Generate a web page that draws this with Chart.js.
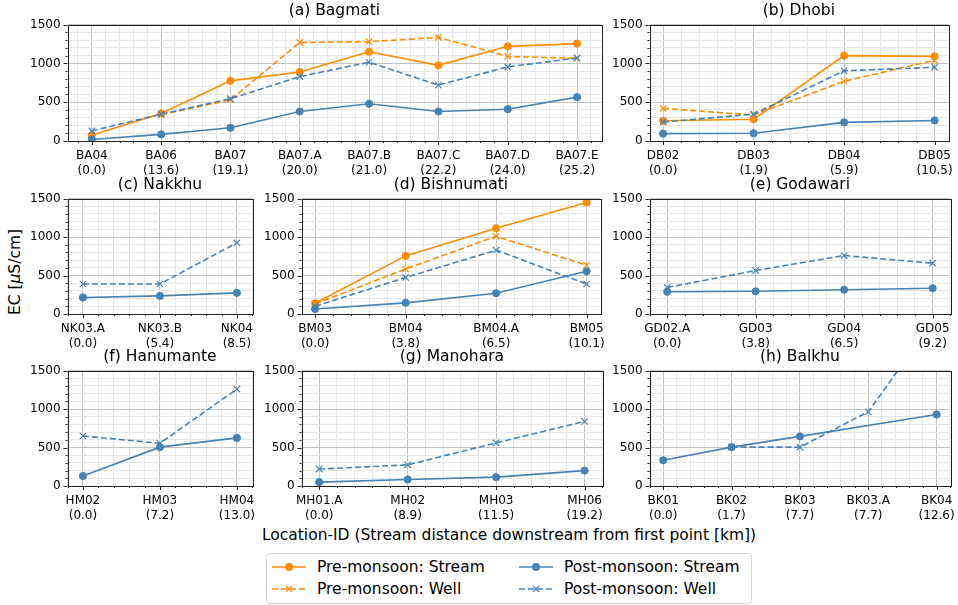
<!DOCTYPE html>
<html>
<head>
<meta charset="utf-8">
<script src="https://cdn.jsdelivr.net/npm/chart.js@4.4.0/dist/chart.umd.min.js"></script>
<style>
  body { margin: 0; background: #fff; }
  #fig { position: relative; width: 958px; height: 605px; overflow: hidden; font-family: "DejaVu Sans", sans-serif; color: #000; }
  #fig canvas { position: absolute; }
  .txt { position: absolute; white-space: nowrap; font-size: 15.5px; line-height: 20px; }
  .handle { position: absolute; }
</style>
</head>
<body>
<div id="fig">
  <div class="txt" id="xlabel" style="left:509px; top:525px; transform:translateX(-50%);">Location-ID (Stream distance downstream from first point [km])</div>
  <div class="txt" id="ylabel" style="left:15px; top:272px; transform:translate(-50%,-50%) rotate(-90deg);">EC [<i>μ</i>S/cm]</div>
  <div id="legend" style="position:absolute; left:266px; top:553px; width:486px; height:51px; box-sizing:border-box; border:1px solid #d3d3d3; border-radius:4px;"></div>
</div>
<script>
const FONT = '"DejaVu Sans", sans-serif';
const ORANGE = '#ff8c00';
const BLUE = '#4682b4';

// (a) Bagmati
const bagIds = ['BA04', 'BA06', 'BA07', 'BA07.A', 'BA07.B', 'BA07.C', 'BA07.D', 'BA07.E'];
const bagDist = ['0.0', '13.6', '19.1', '20.0', '21.0', '22.2', '24.0', '25.2'];
const bagPreStream = [75, 355, 775, 890, 1150, 975, 1220, 1255];
const bagPreWell = [null, 340, 530, 1270, 1280, 1335, 1090, 1065];
const bagPostStream = [20, 85, 170, 380, 480, 380, 410, 565];
const bagPostWell = [130, 345, 545, 830, 1015, 720, 955, 1070];

// (b) Dhobi
const dhoIds = ['DB02', 'DB03', 'DB04', 'DB05'];
const dhoDist = ['0.0', '1.9', '5.9', '10.5'];
const dhoPreStream = [260, 280, 1100, 1090];
const dhoPreWell = [420, 335, 770, 1040];
const dhoPostStream = [95, 100, 240, 265];
const dhoPostWell = [245, 345, 905, 950];

// (c) Nakkhu
const nakIds = ['NK03.A', 'NK03.B', 'NK04'];
const nakDist = ['0.0', '5.4', '8.5'];
const nakPostStream = [215, 235, 275];
const nakPostWell = [390, 390, 925];

// (d) Bishnumati
const bisIds = ['BM03', 'BM04', 'BM04.A', 'BM05'];
const bisDist = ['0.0', '3.8', '6.5', '10.1'];
const bisPreStream = [140, 755, 1115, 1450];
const bisPreWell = [130, 585, 1010, 635];
const bisPostStream = [65, 145, 270, 555];
const bisPostWell = [100, 475, 830, 390];

// (e) Godawari
const godIds = ['GD02.A', 'GD03', 'GD04', 'GD05'];
const godDist = ['0.0', '3.8', '6.5', '9.2'];
const godPostStream = [290, 295, 315, 335];
const godPostWell = [345, 565, 760, 660];

// (f) Hanumante
const hanIds = ['HM02', 'HM03', 'HM04'];
const hanDist = ['0.0', '7.2', '13.0'];
const hanPostStream = [130, 505, 625];
const hanPostWell = [650, 555, 1260];

// (g) Manohara
const manIds = ['MH01.A', 'MH02', 'MH03', 'MH06'];
const manDist = ['0.0', '8.9', '11.5', '19.2'];
const manPostStream = [50, 85, 115, 200];
const manPostWell = [220, 275, 560, 840];

// (h) Balkhu
const balIds = ['BK01', 'BK02', 'BK03', 'BK03.A', 'BK04'];
const balDist = ['0.0', '1.7', '7.7', '7.7', '12.6'];
const balPostStream = [335, 505, 645, null, 930];
const balPostWell = [null, 505, 505, 965, 2200];

const yTicks = [0, 500, 1000, 1500];

// panel layout: plot-area box [left, top, width, height] and x padding in category units
const panels = [
  { title: '(a) Bagmati', ids: bagIds, dist: bagDist, series: [bagPreStream, bagPreWell, bagPostStream, bagPostWell], pad: 0.35, box: [68, 25, 534, 116] },
  { title: '(b) Dhobi', ids: dhoIds, dist: dhoDist, series: [dhoPreStream, dhoPreWell, dhoPostStream, dhoPostWell], pad: 0.15, box: [650, 25, 301, 116] },
  { title: '(c) Nakkhu', ids: nakIds, dist: nakDist, series: [null, null, nakPostStream, nakPostWell], pad: 0.2, box: [68, 199, 185, 115] },
  { title: '(d) Bishnumati', ids: bisIds, dist: bisDist, series: [bisPreStream, bisPreWell, bisPostStream, bisPostWell], pad: 0.15, box: [302, 199, 301, 115] },
  { title: '(e) Godawari', ids: godIds, dist: godDist, series: [null, null, godPostStream, godPostWell], pad: 0.2, box: [650, 199, 301, 115] },
  { title: '(f) Hanumante', ids: hanIds, dist: hanDist, series: [null, null, hanPostStream, hanPostWell], pad: 0.2, box: [68, 371, 185, 115] },
  { title: '(g) Manohara', ids: manIds, dist: manDist, series: [null, null, manPostStream, manPostWell], pad: 0.2, box: [302, 371, 301, 115] },
  { title: '(h) Balkhu', ids: balIds, dist: balDist, series: [null, null, balPostStream, balPostWell], pad: 0.2, box: [650, 371, 301, 115] }
];

// colour, dashed, draw order for Pre Stream, Pre Well, Post Stream, Post Well
const seriesStyle = [
  { color: ORANGE, dashed: false, order: 4 },
  { color: ORANGE, dashed: true, order: 3 },
  { color: BLUE, dashed: false, order: 2 },
  { color: BLUE, dashed: true, order: 1 }
];

const MAJOR_GRID = '#c4c4c4';
const MINOR_GRID = '#e6e6e6';

// frame on all four sides plus major/minor tick marks
const framePlugin = {
  id: 'frame',
  afterDraw(chart) {
    const { ctx, chartArea: a, scales } = chart;
    ctx.save();
    ctx.strokeStyle = '#222';
    ctx.lineWidth = 1;
    ctx.beginPath();
    scales.x.ticks.forEach(t => {
      const px = Math.round(scales.x.getPixelForValue(t.value)) + 0.5;
      const len = Number.isInteger(t.value) ? 4 : 2;
      ctx.moveTo(px, a.bottom);
      ctx.lineTo(px, a.bottom + len);
    });
    scales.y.ticks.forEach(t => {
      const py = Math.round(scales.y.getPixelForValue(t.value)) + 0.5;
      const len = t.value % 500 === 0 ? 4 : 2;
      ctx.moveTo(a.left, py);
      ctx.lineTo(a.left - len, py);
    });
    ctx.stroke();
    ctx.strokeRect(Math.round(a.left) + 0.5, Math.round(a.top) + 0.5, Math.round(a.right - a.left), Math.round(a.bottom - a.top));
    ctx.restore();
  }
};

function makeDataset(vals, style) {
  return {
    data: vals.map((v, i) => ({ x: i, y: v })),
    borderColor: style.color,
    backgroundColor: style.color,
    borderWidth: 1.6,
    borderDash: style.dashed ? [6, 3] : [],
    pointStyle: style.dashed ? 'crossRot' : 'circle',
    pointRadius: style.dashed ? 4.5 : 3.6,
    pointBorderWidth: style.dashed ? 1.2 : 1,
    pointBorderColor: style.color,
    pointBackgroundColor: style.color,
    spanGaps: true,
    clip: 0,
    order: style.order
  };
}

function makeChart(p) {
  const fig = document.getElementById('fig');
  const canvas = document.createElement('canvas');
  canvas.width = p.box[2] + 120;
  canvas.height = p.box[3] + 90;
  fig.appendChild(canvas);

  const n = p.ids.length;
  const datasets = [];
  p.series.forEach((vals, k) => {
    if (vals) datasets.push(makeDataset(vals, seriesStyle[k]));
  });

  const chart = new Chart(canvas, {
    type: 'line',
    data: { datasets },
    options: {
      responsive: false,
      maintainAspectRatio: false,
      animation: false,
      events: [],
      layout: { padding: 0 },
      plugins: {
        legend: { display: false },
        tooltip: { enabled: false },
        title: {
          display: true,
          text: p.title,
          fullSize: false,
          color: '#000',
          font: { family: FONT, size: 15.5, weight: 'normal', lineHeight: 1.2 },
          padding: { top: 2, bottom: 4 }
        }
      },
      scales: {
        x: {
          type: 'linear',
          min: -p.pad,
          max: n - 1 + p.pad,
          afterBuildTicks: s => {
            const t = [];
            for (let k = Math.ceil(s.min / 0.2 - 1e-6); k * 0.2 <= s.max + 1e-6; k++) {
              t.push({ value: +(k * 0.2).toFixed(1) });
            }
            s.ticks = t;
          },
          ticks: {
            autoSkip: false,
            maxRotation: 0,
            minRotation: 0,
            padding: 3,
            color: '#000',
            font: { family: FONT, size: 12, lineHeight: 1.25 },
            callback: v => Number.isInteger(v) ? [p.ids[v], '(' + p.dist[v] + ')'] : ''
          },
          grid: {
            color: c => Number.isInteger(c.tick.value) ? MAJOR_GRID : MINOR_GRID,
            lineWidth: 1,
            tickLength: 4,
            tickColor: 'rgba(0,0,0,0)'
          },
          border: { display: false }
        },
        y: {
          min: 0,
          max: 1500,
          afterBuildTicks: s => {
            const t = [];
            for (let v = 0; v <= 1500; v += 100) t.push({ value: v });
            s.ticks = t;
          },
          ticks: {
            autoSkip: false,
            padding: 3,
            color: '#000',
            font: { family: FONT, size: 12 },
            callback: v => yTicks.includes(v) ? String(v) : ''
          },
          grid: {
            color: c => yTicks.includes(c.tick.value) ? MAJOR_GRID : MINOR_GRID,
            lineWidth: 1,
            tickLength: 4,
            tickColor: 'rgba(0,0,0,0)'
          },
          border: { display: false }
        }
      }
    },
    plugins: [framePlugin]
  });

  // resize so the plot area matches the target box, then move it into place
  let a = chart.chartArea;
  chart.resize(Math.round(chart.width + p.box[2] - (a.right - a.left)), Math.round(chart.height + p.box[3] - (a.bottom - a.top)));
  a = chart.chartArea;
  canvas.style.left = Math.round(p.box[0] - a.left) + 'px';
  canvas.style.top = Math.round(p.box[1] - a.top) + 'px';
  return chart;
}

panels.forEach(makeChart);

// legend (two columns, matplotlib style handles)
const legendItems = [
  { label: 'Pre-monsoon: Stream', style: seriesStyle[0], x: 272, y: 567 },
  { label: 'Pre-monsoon: Well', style: seriesStyle[1], x: 272, y: 589 },
  { label: 'Post-monsoon: Stream', style: seriesStyle[2], x: 519, y: 567 },
  { label: 'Post-monsoon: Well', style: seriesStyle[3], x: 519, y: 589 }
];
const fig = document.getElementById('fig');
legendItems.forEach(item => {
  const s = item.style;
  const marker = s.dashed
    ? '<path d="M14 5 L20 11 M20 5 L14 11" stroke="' + s.color + '" stroke-width="1.2"/>'
    : '<circle cx="17" cy="8" r="4" fill="' + s.color + '"/>';
  const svg = document.createElement('div');
  svg.className = 'handle';
  svg.style.left = item.x + 'px';
  svg.style.top = (item.y - 8) + 'px';
  svg.innerHTML = '<svg width="34" height="16"><line x1="0" y1="8" x2="34" y2="8" stroke="' + s.color + '" stroke-width="1.6"' +
    (s.dashed ? ' stroke-dasharray="6 3"' : '') + '/>' + marker + '</svg>';
  fig.appendChild(svg);
  const t = document.createElement('div');
  t.className = 'txt';
  t.style.left = (item.x + 45) + 'px';
  t.style.top = (item.y - 10) + 'px';
  t.textContent = item.label;
  fig.appendChild(t);
});
</script>
</body>
</html>
